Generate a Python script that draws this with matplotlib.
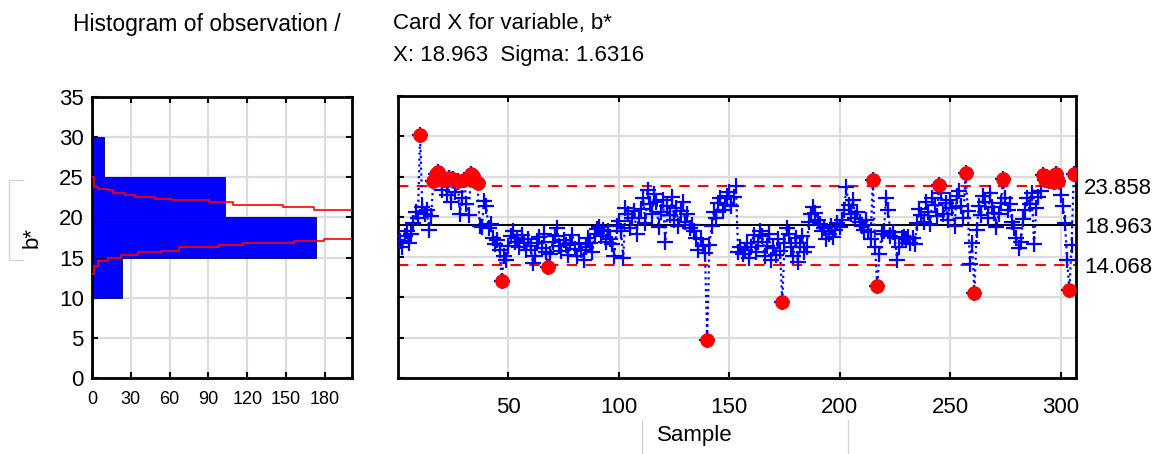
import numpy as np
import matplotlib
matplotlib.use("Agg")
import matplotlib.pyplot as plt
from matplotlib.lines import Line2D

plt.rcParams["font.family"] = ["Liberation Sans", "DejaVu Sans"]

# control limits
center = 18.963
sigma = 1.6316
ucl = 23.858
lcl = 14.068

# histogram (bins of width 5 on b*)
bin_edges = [0, 5, 10, 15, 20, 25, 30]
bin_counts = [1, 1, 23, 173, 103, 9, 1]

# expected normal curve (count, b*)
curve_hi_x = [0.5, 1.8, 4.4, 12.3, 16.2, 25.3, 33.2, 48.8, 61.9, 90.6, 108.9, 148, 171.5, 205]
curve_hi_y = [25.0, 23.8, 23.6, 23.4, 23.1, 22.8, 22.55, 22.35, 22.15, 21.9, 21.55, 21.3, 20.95, 20.9]
curve_lo_x = [0.2, 1.8, 4.4, 12.3, 22.7, 35.7, 54, 67, 98.3, 116.6, 155.8, 179.3, 205]
curve_lo_y = [12.97, 14.0, 14.6, 14.9, 15.26, 15.67, 15.88, 16.3, 16.6, 16.8, 17.05, 17.3, 17.4]

# b* per sample (1..306)
b_values = [
    17.0, 16.3, 17.6, 18.2, 16.8, 17.9, 19.2, 20.6, 19.8, 30.2,
    21.2, 20.3, 20.8, 18.4, 20.1, 24.4, 25.3, 25.6, 24.9, 23.3,
    24.6, 22.7, 24.8, 21.9, 24.7, 23.1, 24.5, 20.4, 22.3, 24.6,
    21.6, 20.2, 25.3, 25.1, 24.5, 24.2, 18.9, 18.7, 22.0, 21.3,
    18.6, 19.1, 17.4, 16.6, 17.1, 15.9, 12.1, 15.2, 14.6, 16.4,
    17.6, 18.3, 16.9, 17.4, 16.2, 17.8, 16.7, 15.9, 17.2, 16.4,
    14.3, 15.1, 16.8, 17.5, 16.1, 17.9, 15.6, 13.8, 15.4, 16.9,
    17.6, 18.6, 16.4, 15.8, 17.1, 16.5, 15.3, 16.8, 17.7, 16.0,
    15.2, 16.6, 15.9, 14.7, 16.3, 17.4, 16.8, 15.6, 17.9, 18.5,
    18.7, 17.6, 18.4, 16.9, 18.2, 17.3, 16.6, 15.1, 18.9, 19.5,
    18.3, 14.9, 21.1, 20.4, 18.6, 19.8, 20.7, 17.9, 19.9, 21.0,
    22.4, 19.2, 23.3, 21.6, 20.3, 22.8, 21.9, 18.7, 20.6, 22.1,
    16.9, 21.4, 20.2, 22.5, 19.6, 21.1, 18.9, 20.7, 21.8, 19.3,
    20.4, 18.6, 19.0, 18.2, 17.4, 15.9, 17.3, 16.4, 15.5, 4.7,
    16.5, 18.9, 20.6, 19.8, 21.7, 22.3, 20.9, 21.5, 22.6, 23.1,
    21.4, 22.5, 23.8, 15.7, 16.2, 15.4, 15.9, 16.8, 14.9, 16.3,
    17.8, 15.6, 16.9, 18.3, 17.6, 15.2, 16.4, 17.9, 14.6, 16.1,
    15.3, 17.2, 15.8, 9.4, 16.7, 18.6, 17.9, 16.3, 15.1, 17.4,
    14.4, 16.8, 17.6, 15.7, 16.2, 19.4, 20.3, 21.2, 20.5, 19.6,
    19.1, 18.2, 18.6, 17.3, 17.9, 18.9, 17.5, 18.4, 19.2, 18.7,
    19.6, 20.8, 23.7, 21.5, 20.4, 22.1, 19.8, 20.6, 19.4, 18.9,
    18.4, 19.6, 18.1, 17.2, 24.6, 16.3, 11.4, 15.4, 17.9, 18.2,
    22.4, 20.9, 17.6, 18.1, 17.4, 14.6, 16.2, 17.4, 17.5, 17.3,
    17.5, 16.8, 17.4, 16.6, 19.2, 21.0, 20.2, 19.4, 21.8, 20.6,
    19.1, 22.3, 21.5, 20.1, 24.0, 22.9, 20.4, 21.7, 19.6, 22.1,
    21.1, 18.9, 22.6, 23.2, 21.4, 19.8, 25.4, 20.7, 14.2, 16.8,
    10.5, 18.4, 21.3, 20.2, 22.6, 21.8, 19.9, 22.9, 21.2, 20.5,
    18.8, 20.4, 21.7, 24.7, 22.3, 20.9, 21.6, 19.3, 18.6, 17.4,
    16.1, 16.9, 19.7, 20.8, 22.4, 21.6, 22.9, 16.6, 21.1, 22.5,
    23.2, 25.2, 24.6, 25.0, 24.4, 24.9, 24.3, 25.3, 24.5, 22.7,
    21.4, 19.2, 14.6, 10.9, 16.5, 25.3,
]

hist_xticks = [0, 30, 60, 90, 120, 150, 180]
sample_xticks = [50, 100, 150, 200, 250, 300]
limit_labels = ["14.068", "18.963", "23.858"]

W, H = 1157, 454
BLUE = "#0000ff"
RED = "#ff0000"
GRID = "#dcdcdc"

fig = plt.figure(figsize=(W / 100, H / 100), dpi=100)


def style_axes(ax):
    for sp in ax.spines.values():
        sp.set_linewidth(2)
        sp.set_color("black")
    ax.grid(True, color=GRID, lw=1.6)
    ax.set_axisbelow(True)
    ax.tick_params(direction="in", length=4, width=1.5, top=True, right=True)


# histogram
ax_h = fig.add_axes([92 / W, 1 - 378 / H, 260 / W, 281 / H])
style_axes(ax_h)
ax_h.barh(bin_edges, bin_counts, height=5, align="edge", color=BLUE,
          edgecolor="#000060", linewidth=0.6, zorder=2)
ax_h.plot(curve_hi_x, curve_hi_y, color=RED, lw=1.2, drawstyle="steps-post", zorder=3)
ax_h.plot(curve_lo_x, curve_lo_y, color=RED, lw=1.2, drawstyle="steps-post", zorder=3)
ax_h.set_xlim(0, 201)
ax_h.set_ylim(0, 35)
ax_h.set_xticks(hist_xticks)
ax_h.set_yticks(range(0, 36, 5))
ax_h.tick_params(axis="x", labelsize=13, pad=9)
ax_h.tick_params(axis="y", labelsize=16, pad=6)
ax_h.set_ylabel("b*", fontsize=16, labelpad=12)

# control chart
ax_c = fig.add_axes([398 / W, 1 - 378 / H, 678 / W, 282 / H])
style_axes(ax_c)
samples = np.arange(1, len(b_values) + 1)
vals = np.array(b_values)
ax_c.axhline(center, color="black", lw=1.5, zorder=2)
for lim in (ucl, lcl):
    ax_c.axhline(lim, color=RED, lw=1.5, dashes=(5, 4), zorder=2)
ax_c.plot(samples, vals, color=BLUE, ls=":", lw=1.6, marker="+", ms=11, mew=1.6, zorder=3)
out = (vals > ucl) | (vals < lcl)
ax_c.plot(samples[out], vals[out], "o", color=RED, ms=9.5, zorder=4)
ax_c.set_xlim(0, 307)
ax_c.set_ylim(0, 35)
ax_c.set_xticks(sample_xticks)
ax_c.set_yticks(range(0, 36, 5))
ax_c.tick_params(labelleft=False, labelsize=16, pad=14)

ax_r = ax_c.twinx()
ax_r.set_ylim(0, 35)
ax_r.set_yticks([lcl, center, ucl])
ax_r.set_yticklabels(limit_labels)
ax_r.tick_params(length=0, labelsize=16, pad=6)
for sp in ax_r.spines.values():
    sp.set_visible(False)

# titles and axis label
fig.text(73 / W, 1 - 24 / H, "Histogram of observation /", fontsize=16.5, va="center")
fig.text(393 / W, 1 - 24 / H, "Card X for variable, b*", fontsize=16, va="center")
fig.text(393 / W, 1 - 56 / H, "X: 18.963  Sigma: 1.6316", fontsize=16, va="center")
fig.text(657 / W, 1 - 435 / H, "Sample", fontsize=16, va="center")

# faint label frames
lc = "#d4d4d4"
fig.add_artist(Line2D([23 / W, 9 / W, 9 / W, 23 / W],
                      [1 - 180 / H, 1 - 180 / H, 1 - 260 / H, 1 - 260 / H], color=lc, lw=1))
for xx in (642, 848):
    fig.add_artist(Line2D([xx / W, xx / W], [1 - 420 / H, 0], color=lc, lw=1))

fig.savefig("out.png", dpi=100)
